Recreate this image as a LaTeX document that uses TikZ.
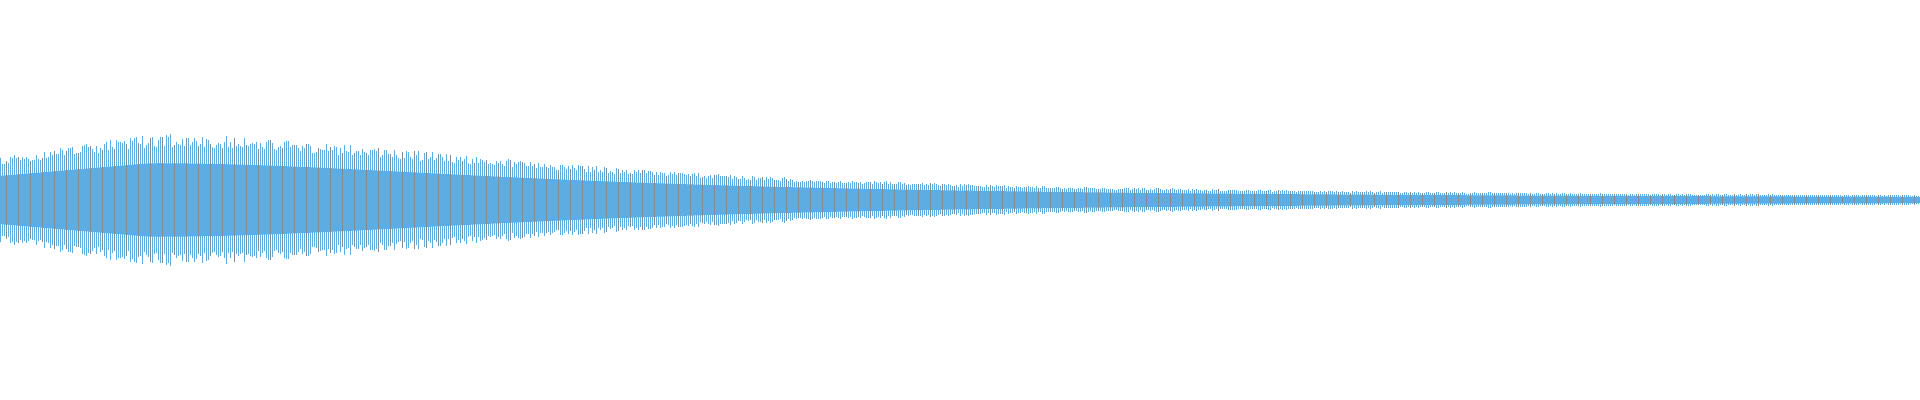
\documentclass[tikz,border=0pt]{standalone}
\usetikzlibrary{positioning}
\definecolor{waveblue}{RGB}{93,173,226}
\definecolor{wavegray}{RGB}{130,140,150}
\tikzset{
  wave/.style={waveblue,line width=0.2pt},
  wavedark/.style={wavegray,line width=0.2pt},
  declare function={env(\t)=min(42+\t/150*23,65/(1+((\t-150)/450)^2));},
}
\pgfmathsetseed{7}
\begin{document}
\begin{tikzpicture}[x=0.01cm,y=0.01cm]
    \useasboundingbox (0,0) rectangle (1920,400);
    % dense core
    \fill[waveblue] plot[domain=0:1920,samples=160,smooth] (\x,{200+0.55*env(\x)+1})
        -- plot[domain=1920:0,samples=160,smooth] (\x,{200-0.55*env(\x)-1}) -- cycle;
    % outer strokes
    \foreach \i in {0,...,959} {
        \pgfmathsetmacro{\px}{\i*2}
        \pgfmathsetmacro{\amp}{env(\px)*(0.8+0.2*rnd)+1}
        \pgfmathtruncatemacro{\k}{mod(\i,6)}
        \ifnum\k=3
            \draw[wavedark] (\px,200-\amp) -- (\px,200+\amp);
        \else
            \draw[wave] (\px,200-\amp) -- (\px,200+\amp);
        \fi
    }
\end{tikzpicture}
\end{document}
